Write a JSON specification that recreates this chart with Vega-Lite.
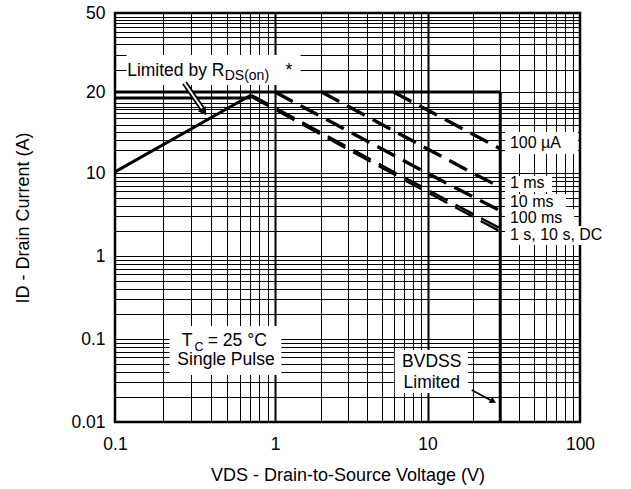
{
  "$schema": "https://vega.github.io/schema/vega-lite/v6.json",
  "width": 465,
  "height": 409,
  "autosize": "none",
  "padding": {"left": 115, "top": 13, "right": 51, "bottom": 67},
  "background": "white",
  "config": {
    "font": "Liberation Sans, Arial, Helvetica, sans-serif",
    "view": {"stroke": "black", "strokeWidth": 2.5},
    "text": {"font": "Liberation Sans, Arial, Helvetica, sans-serif", "color": "black"}
  },
  "datasets": {
    "solid": [
      {"s": "rds", "o": 1, "v": 0.1, "i": 10.1},
      {"s": "rds", "o": 2, "v": 0.71, "i": 19.5},
      {"s": "lim20", "o": 1, "v": 0.1, "i": 20},
      {"s": "lim20", "o": 2, "v": 30, "i": 20},
      {"s": "lim19", "o": 1, "v": 0.1, "i": 19},
      {"s": "lim19", "o": 2, "v": 0.71, "i": 19},
      {"s": "bvdss", "o": 1, "v": 30, "i": 0.01},
      {"s": "bvdss", "o": 2, "v": 30, "i": 20}
    ],
    "dashed": [
      {"s": "100us", "o": 1, "v": 6, "i": 20},
      {"s": "100us", "o": 2, "v": 30, "i": 12.3},
      {"s": "1ms", "o": 1, "v": 2.02, "i": 20},
      {"s": "1ms", "o": 2, "v": 19.7, "i": 10},
      {"s": "1ms", "o": 3, "v": 30, "i": 6.8},
      {"s": "10ms", "o": 1, "v": 1.0, "i": 20},
      {"s": "10ms", "o": 2, "v": 9.9, "i": 10},
      {"s": "10ms", "o": 3, "v": 30, "i": 3.5}
    ],
    "double": [
      {"s": "100ms", "o": 1, "v": 0.71, "i": 19.5},
      {"s": "100ms", "o": 2, "v": 1, "i": 17.5},
      {"s": "100ms", "o": 3, "v": 6.2, "i": 10},
      {"s": "100ms", "o": 4, "v": 30, "i": 2.15},
      {"s": "dc", "o": 1, "v": 0.71, "i": 19.2},
      {"s": "dc", "o": 2, "v": 1, "i": 17.2},
      {"s": "dc", "o": 3, "v": 5.8, "i": 10},
      {"s": "dc", "o": 4, "v": 30, "i": 1.97}
    ],
    "boxes": [
      {"b": "rds", "v": 0.118, "v2": 1.47, "i": 21.7, "i2": 30.7},
      {"b": "tc", "v": 0.219, "v2": 1.10, "i": 0.0368, "i2": 0.1434},
      {"b": "bvdss", "v": 6.1, "v2": 18.4, "i": 0.0223, "i2": 0.0737},
      {"b": "100us", "v": 32.2, "v2": 97, "i": 11.76, "i2": 14.2},
      {"b": "1ms", "v": 32.2, "v2": 65.5, "i": 5.9, "i2": 9.2},
      {"b": "10ms", "v": 32.2, "v2": 80.9, "i": 3.68, "i2": 5.58},
      {"b": "100ms", "v": 32.2, "v2": 91.3, "i": 2.30, "i2": 3.68},
      {"b": "dc", "v": 32.2, "v2": 177.7, "i": 1.357, "i2": 2.30}
    ],
    "arrowRds": [
      {"o": 1, "v": 0.272, "i": 22.2},
      {"o": 2, "v": 0.352, "i": 17.3}
    ],
    "arrowBv": [
      {"o": 1, "v": 19.5, "i": 0.0243},
      {"o": 2, "v": 26.0, "i": 0.0183}
    ],
    "headRds": [{"v": 0.360, "i": 16.86}],
    "headBv": [{"v": 27.0, "i": 0.0178}],
    "textLeft": [
      {"t": "= 25 °C", "v": 0.38, "i": 0.0824},
      {"t": "*", "v": 1.172, "i": 24.07}
    ],
    "textSide": [
      {"t": "100 µA", "v": 34.7, "i": 12.35},
      {"t": "1 ms", "v": 34.7, "i": 6.54},
      {"t": "10 ms", "v": 34.7, "i": 3.9},
      {"t": "100 ms", "v": 34.7, "i": 2.48},
      {"t": "1 s, 10 s, DC", "v": 34.7, "i": 1.56}
    ],
    "textRight": [
      {"t": "Limited by R", "v": 0.483, "i": 24.07},
      {"t": "T", "v": 0.305, "i": 0.0824}
    ],
    "textCenter": [
      {"t": "Single Pulse", "v": 0.494, "i": 0.0486},
      {"t": "BVDSS", "v": 10.66, "i": 0.046},
      {"t": "Limited", "v": 10.66, "i": 0.0257}
    ],
    "textSub": [
      {"t": "DS(on)", "v": 0.485, "i": 22.98}
    ],
    "textSubSmall": [
      {"t": "C", "v": 0.314, "i": 0.0725}
    ]
  },
  "encoding": {
    "x": {
      "field": "v",
      "type": "quantitative",
      "scale": {"type": "log", "domain": [0.1, 1, 100], "range": [0, 160, 465], "nice": false, "zero": false},
      "axis": {
        "values": [0.1, 0.2, 0.3, 0.4, 0.5, 0.6, 0.7, 0.8, 0.9, 1, 2, 3, 4, 5, 6, 7, 8, 9, 10, 20, 30, 40, 50, 60, 70, 80, 90, 100],
        "grid": true,
        "gridColor": "black",
        "gridOpacity": 1,
        "gridWidth": {"condition": {"test": "datum.value == 1 || datum.value == 10", "value": 2}, "value": 1},
        "ticks": false,
        "domain": false,
        "labelExpr": "indexof([0.1, 1, 10, 100], datum.value) >= 0 ? format(datum.value, '~g') : ''",
        "labelFontSize": 17.5,
        "labelColor": "black",
        "labelPadding": 13.5,
        "labelFlush": false,
        "labelOverlap": false,
        "labelBound": false,
        "title": "VDS - Drain-to-Source Voltage (V)",
        "titleFontSize": 18,
        "titleFontWeight": "normal",
        "titleColor": "black",
        "titlePadding": 13
      }
    },
    "y": {
      "field": "i",
      "type": "quantitative",
      "scale": {"type": "log", "domain": [0.01, 10, 20, 50], "range": [409, 160, 79, 0], "nice": false, "zero": false},
      "axis": {
        "values": [0.01, 0.02, 0.03, 0.04, 0.05, 0.06, 0.07, 0.08, 0.09, 0.1, 0.2, 0.3, 0.4, 0.5, 0.6, 0.7, 0.8, 0.9, 1, 2, 3, 4, 5, 6, 7, 8, 9, 10, 12.2, 13.3, 14.2, 15.1, 16, 16.7, 17.3, 17.6, 18.2, 20, 25.8, 30.7, 34.8, 38, 40.2, 42.7, 44.4, 46.1, 47.9, 50],
        "grid": true,
        "gridColor": "black",
        "gridOpacity": 1,
        "gridWidth": 1,
        "ticks": false,
        "domain": false,
        "labelExpr": "datum.value == 50 ? '50\u00a0\u00a0\u00a0\u00a0\u00a0' : datum.value == 20 ? '20\u00a0\u00a0\u00a0' : (indexof([0.01, 0.1, 1, 10], datum.value) >= 0 ? format(datum.value, '~g') : '')",
        "labelFontSize": 17.5,
        "labelColor": "black",
        "labelPadding": 10,
        "labelFlush": false,
        "labelOverlap": false,
        "labelBound": false,
        "title": "ID - Drain Current (A)",
        "titleFontSize": 18,
        "titleFontWeight": "normal",
        "titleColor": "black",
        "titlePadding": 38
      }
    }
  },
  "layer": [
    {
      "data": {"name": "boxes"},
      "mark": {"type": "rect", "fill": "white", "stroke": null},
      "encoding": {"x2": {"field": "v2"}, "y2": {"field": "i2"}}
    },
    {
      "data": {"name": "solid"},
      "mark": {"type": "line", "color": "black", "strokeWidth": 3, "strokeCap": "butt"},
      "encoding": {"detail": {"field": "s"}, "order": {"field": "o"}}
    },
    {
      "data": {"name": "dashed"},
      "mark": {"type": "line", "color": "black", "strokeWidth": 3.4, "strokeDash": [20, 9], "strokeCap": "butt"},
      "encoding": {"detail": {"field": "s"}, "order": {"field": "o"}}
    },
    {
      "data": {"name": "double"},
      "mark": {"type": "line", "color": "black", "strokeWidth": 2.4, "strokeDash": [20, 9], "strokeCap": "butt"},
      "encoding": {"detail": {"field": "s"}, "order": {"field": "o"}}
    },
    {
      "data": {"name": "arrowRds"},
      "mark": {"type": "line", "color": "black", "strokeWidth": 5.5, "strokeCap": "butt"},
      "encoding": {"order": {"field": "o"}}
    },
    {
      "data": {"name": "arrowRds"},
      "mark": {"type": "line", "color": "white", "strokeWidth": 2, "strokeCap": "butt"},
      "encoding": {"order": {"field": "o"}}
    },
    {
      "data": {"name": "headRds"},
      "mark": {"type": "point", "shape": "triangle-up", "filled": true, "color": "black", "size": 90, "angle": 146, "opacity": 1, "strokeWidth": 0}
    },
    {
      "data": {"name": "arrowBv"},
      "mark": {"type": "line", "color": "black", "strokeWidth": 1.8, "strokeCap": "butt"},
      "encoding": {"order": {"field": "o"}}
    },
    {
      "data": {"name": "headBv"},
      "mark": {"type": "point", "shape": "triangle-up", "filled": true, "color": "black", "size": 50, "angle": 117.5, "opacity": 1, "strokeWidth": 0}
    },
    {
      "data": {"name": "textLeft"},
      "mark": {"type": "text", "align": "left", "baseline": "alphabetic", "fontSize": 17.5},
      "encoding": {"text": {"field": "t"}}
    },
    {
      "data": {"name": "textSide"},
      "mark": {"type": "text", "align": "left", "baseline": "alphabetic", "fontSize": 16},
      "encoding": {"text": {"field": "t"}}
    },
    {
      "data": {"name": "textRight"},
      "mark": {"type": "text", "align": "right", "baseline": "alphabetic", "fontSize": 17.5},
      "encoding": {"text": {"field": "t"}}
    },
    {
      "data": {"name": "textCenter"},
      "mark": {"type": "text", "align": "center", "baseline": "alphabetic", "fontSize": 17.5},
      "encoding": {"text": {"field": "t"}}
    },
    {
      "data": {"name": "textSub"},
      "mark": {"type": "text", "align": "left", "baseline": "alphabetic", "fontSize": 14},
      "encoding": {"text": {"field": "t"}}
    },
    {
      "data": {"name": "textSubSmall"},
      "mark": {"type": "text", "align": "left", "baseline": "alphabetic", "fontSize": 12.5},
      "encoding": {"text": {"field": "t"}}
    }
  ]
}
